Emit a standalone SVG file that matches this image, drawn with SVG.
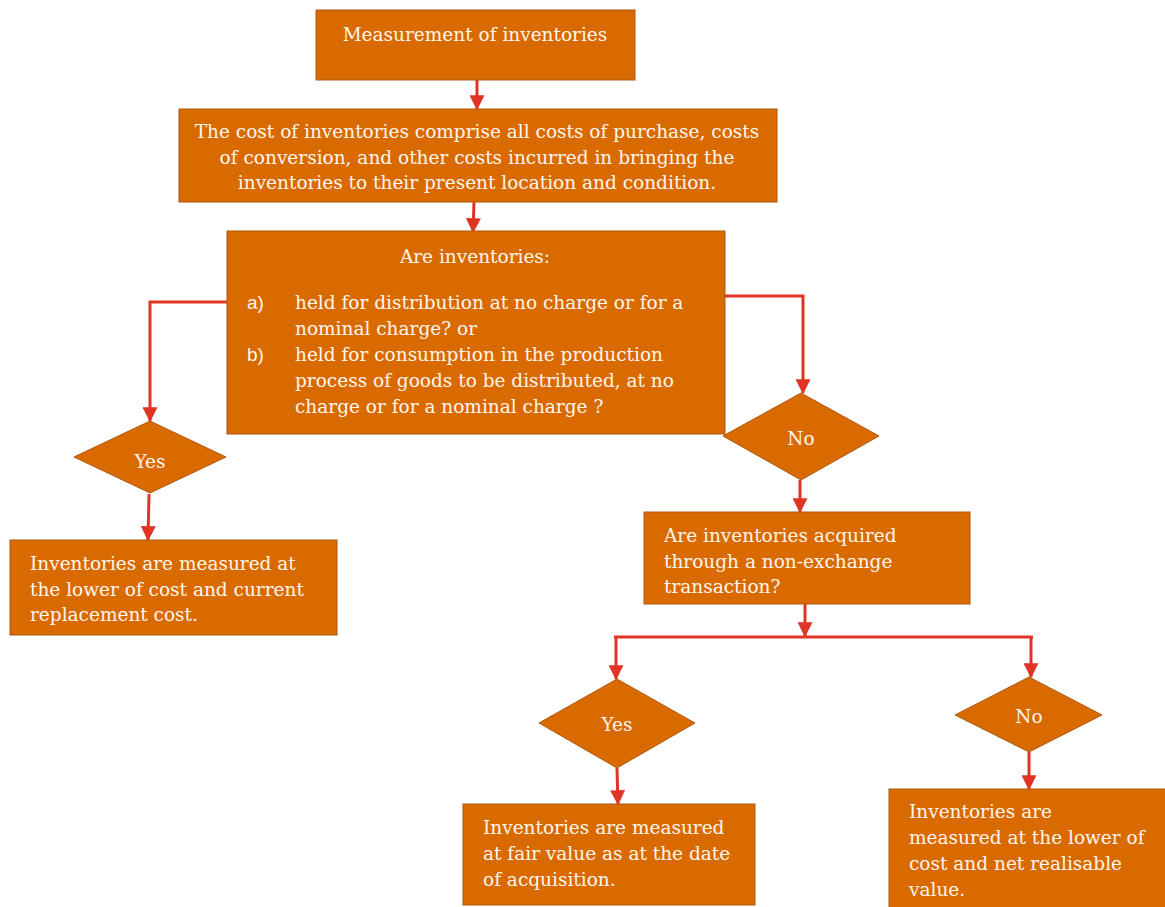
<svg xmlns="http://www.w3.org/2000/svg" width="1165" height="907" viewBox="0 0 1165 907">
<style>
.n{fill:#D96A00;stroke:#B0570E;stroke-width:1}
.t{font-family:"DejaVu Serif","Liberation Serif",serif;font-size:18.5px;fill:#FFF6EC}
.s{font-family:"Liberation Sans",Arial,sans-serif;font-size:19px;fill:#FFF6EC}
.c{text-anchor:middle}
.e{fill:none;stroke:#E03424;stroke-width:3}
</style>
<defs>
<marker id="ah" markerWidth="5" markerHeight="5" refX="4.6" refY="2.5" orient="auto" markerUnits="strokeWidth">
<path d="M0,0 L5,2.5 L0,5 Z" fill="#E03424"/>
</marker>
</defs>
<rect width="1165" height="907" fill="#FFFFFF"/>
<g id="connectors">
<path class="e" d="M477,80 L477,109" marker-end="url(#ah)"/>
<path class="e" d="M474,202 L473,232" marker-end="url(#ah)"/>
<path class="e" d="M227,302 L150,302 L150,421" marker-end="url(#ah)"/>
<path class="e" d="M725,296 L803,296 L803,393" marker-end="url(#ah)"/>
<path class="e" d="M149,494 L148,540" marker-end="url(#ah)"/>
<path class="e" d="M800,480 L800,512" marker-end="url(#ah)"/>
<path class="e" d="M805,604 L805,636" marker-end="url(#ah)"/>
<path class="e" d="M616,638 L616,679" marker-end="url(#ah)"/>
<path class="e" d="M614,637 L1033,637"/>
<path class="e" d="M1031,637 L1031,677" marker-end="url(#ah)"/>
<path class="e" d="M617,768 L618,804" marker-end="url(#ah)"/>
<path class="e" d="M1029,752 L1029,789" marker-end="url(#ah)"/>
</g>
<g id="n1">
<rect class="n" x="316" y="10" width="319" height="70"/>
<text class="t c" x="475" y="41">Measurement of inventories</text>
</g>
<g id="n2">
<rect class="n" x="179" y="109" width="598" height="93"/>
<text class="t c" x="477" y="138">The cost of inventories comprise all costs of purchase, costs</text>
<text class="t c" x="477" y="164">of conversion, and other costs incurred in bringing the</text>
<text class="t c" x="477" y="189">inventories to their present location and condition.</text>
</g>
<g id="n3">
<rect class="n" x="227" y="231" width="498" height="203"/>
<text class="t c" x="475" y="263">Are inventories:</text>
<text class="s" x="247" y="309">a)</text>
<text class="t" x="295" y="309">held for distribution at no charge or for a</text>
<text class="t" x="295" y="335">nominal charge? or</text>
<text class="s" x="247" y="361">b)</text>
<text class="t" x="295" y="361">held for consumption in the production</text>
<text class="t" x="295" y="387">process of goods to be distributed, at no</text>
<text class="t" x="295" y="413">charge or for a nominal charge ?</text>
</g>
<g id="d1">
<polygon class="n" points="150,421 226,457 150,493 74,457"/>
<text class="t c" x="150" y="468">Yes</text>
</g>
<g id="n4">
<rect class="n" x="10" y="540" width="327" height="95"/>
<text class="t" x="30" y="570">Inventories are measured at</text>
<text class="t" x="30" y="596">the lower of cost and current</text>
<text class="t" x="30" y="621">replacement cost.</text>
</g>
<g id="d2">
<polygon class="n" points="801,393 879,436 801,480 723,436"/>
<text class="t c" x="801" y="445">No</text>
</g>
<g id="n5">
<rect class="n" x="644" y="512" width="326" height="92"/>
<text class="t" x="664" y="542">Are inventories acquired</text>
<text class="t" x="664" y="568">through a non-exchange</text>
<text class="t" x="664" y="593">transaction?</text>
</g>
<g id="d3">
<polygon class="n" points="617,679 695,723 617,768 539,723"/>
<text class="t c" x="617" y="731">Yes</text>
</g>
<g id="n6">
<rect class="n" x="463" y="804" width="292" height="101"/>
<text class="t" x="483" y="834">Inventories are measured</text>
<text class="t" x="483" y="860">at fair value as at the date</text>
<text class="t" x="483" y="886">of acquisition.</text>
</g>
<g id="d4">
<polygon class="n" points="1029,677 1102,715 1029,752 955,715"/>
<text class="t c" x="1029" y="723">No</text>
</g>
<g id="n7">
<rect class="n" x="889" y="789" width="280" height="122"/>
<text class="t" x="909" y="818">Inventories are</text>
<text class="t" x="909" y="844">measured at the lower of</text>
<text class="t" x="909" y="870">cost and net realisable</text>
<text class="t" x="909" y="896">value.</text>
</g>
</svg>
